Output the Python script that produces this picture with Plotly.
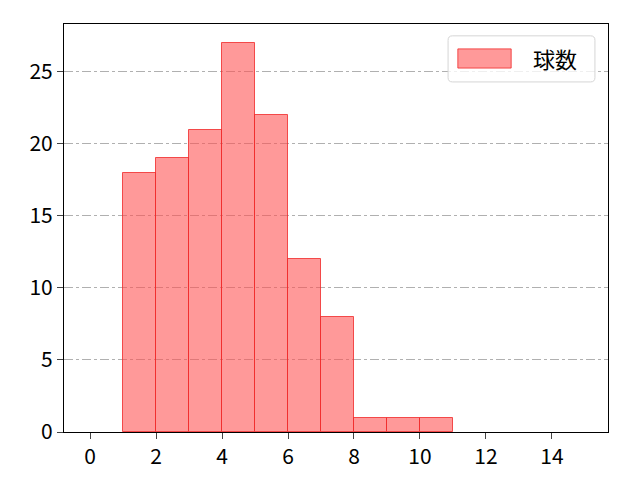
import plotly.graph_objects as go

# histogram bins (left edge) and counts
bin_left = [1, 2, 3, 4, 5, 6, 7, 8, 9, 10]
counts = [18, 19, 21, 27, 22, 12, 8, 1, 1, 1]
series_name = "球数"
x_ticks = [0, 2, 4, 6, 8, 10, 12, 14]
y_ticks = [0, 5, 10, 15, 20, 25]

bar_fill = "rgba(255,80,80,0.58)"
bar_edge = "rgba(240,40,40,0.8)"

fig = go.Figure()
fig.add_trace(go.Bar(
    x=[b + 0.5 for b in bin_left], y=counts, width=1, name=series_name,
    marker=dict(color=bar_fill, line=dict(color=bar_edge, width=1)),
    showlegend=False,
))

# hand-drawn legend (rounded box, wide patch, label)
x0, x1, y0, y1 = 0.706, 0.976, 0.858, 0.971
rx, ry = 0.008, 0.011
box = (f"M{x0+rx},{y0} L{x1-rx},{y0} Q{x1},{y0} {x1},{y0+ry} "
       f"L{x1},{y1-ry} Q{x1},{y1} {x1-rx},{y1} L{x0+rx},{y1} "
       f"Q{x0},{y1} {x0},{y1-ry} L{x0},{y0+ry} Q{x0},{y0} {x0+rx},{y0} Z")
fig.add_shape(type="path", path=box, xref="paper", yref="paper",
              line=dict(color="#d5d5d5", width=1), fillcolor="rgba(255,255,255,0.8)")
fig.add_shape(type="rect", xref="paper", yref="paper", x0=0.724, x1=0.822, y0=0.892, y1=0.939,
              line=dict(color=bar_edge, width=1), fillcolor=bar_fill)
fig.add_annotation(x=0.858, y=0.916, xref="paper", yref="paper", text=series_name,
                   showarrow=False, xanchor="left", yanchor="middle", font=dict(size=22))

font = "Noto Sans CJK JP"
fig.update_layout(
    width=640, height=480,
    margin=dict(l=56, r=40, t=16, b=56),
    paper_bgcolor="white", plot_bgcolor="white",
    font=dict(family=font, size=21, color="black"),
    bargap=0,
    xaxis=dict(range=[-0.79, 15.7], tickvals=x_ticks, ticks="outside", ticklen=6,
               showgrid=False, zeroline=False, showline=True, mirror=True,
               linecolor="black", linewidth=1.2),
    yaxis=dict(range=[0, 28.33], tickvals=y_ticks, ticks="outside", ticklen=6,
               showgrid=True, gridcolor="#b0b0b0", griddash="dashdot", gridwidth=1,
               zeroline=False, showline=True, mirror=True,
               linecolor="black", linewidth=1.2),
)

fig.write_html("out.html")
